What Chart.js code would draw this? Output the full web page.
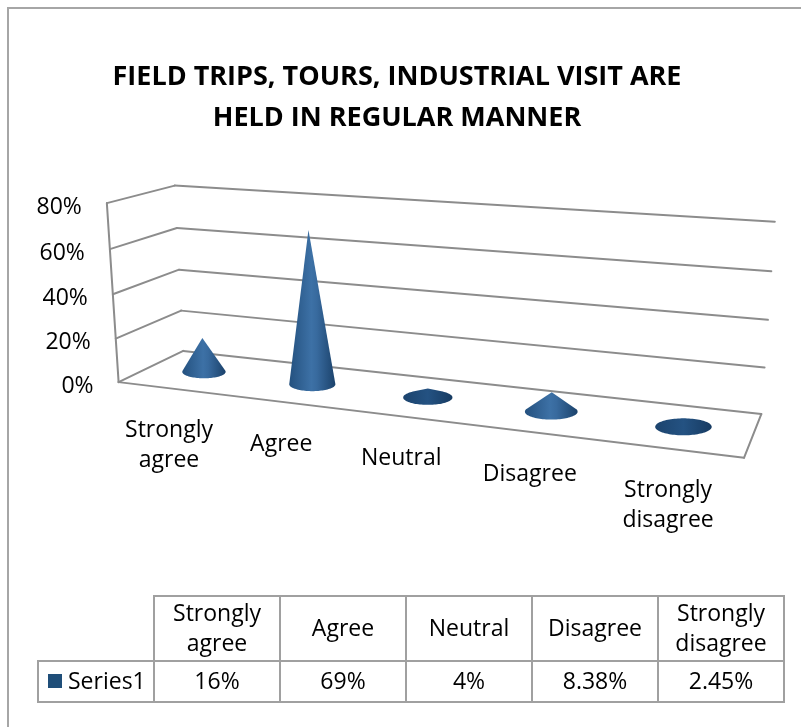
<!DOCTYPE html>
<html><head><meta charset="utf-8">
<script src="https://cdn.jsdelivr.net/npm/chart.js@4.4.0/dist/chart.umd.min.js"></script>
<style>html,body{margin:0;padding:0;background:#fff}#wrap{width:801px;height:727px;position:relative}</style>
</head><body><div id="wrap"><canvas id="c" width="801" height="727"></canvas></div>
<script>
// ---- data ----
const categories = [['Strongly','agree'], 'Agree', 'Neutral', 'Disagree', ['Strongly','disagree']];
const seriesName = 'Series1';
const values = [0.16, 0.69, 0.04, 0.0838, 0.0245];
const valueLabels = ['16%', '69%', '4%', '8.38%', '2.45%'];
const yTickValues = [0, 0.2, 0.4, 0.6, 0.8];
const yTickLabels = ['0%', '20%', '40%', '60%', '80%'];
const titleLines = ['FIELD TRIPS, TOURS, INDUSTRIAL VISIT ARE', 'HELD IN REGULAR MANNER'];

// ---- layout (3D frame corners of the plot box: u along categories, v along value, z depth) ----
const FRAME = [
  [0,0,0,118,382],[0,0.25,0,116,339],[0,0.5,0,113,294],[0,0.75,0,110,249],[0,1,0,107,203],
  [0,0,1,183,351],[0,0.25,1,182,311],[0,0.5,1,179,269],[0,0.75,1,177,228],[0,1,1,174,186],
  [1,0,1,761,414],[1,0.25,1,765,367],[1,0.5,1,768,320],[1,0.75,1,771,271],[1,1,1,775,222],
  [1,0,0,744,458]
];
const FONT = "'Open Sans', 'Noto Sans', 'DejaVu Sans', sans-serif";
const GRID = '#8c8c8c';
const SERIES_COLOR = '#1f4e79';

function solve(A, b) {
  const n = b.length;
  for (let i = 0; i < n; i++) {
    let p = i;
    for (let r = i + 1; r < n; r++) if (Math.abs(A[r][i]) > Math.abs(A[p][i])) p = r;
    [A[i], A[p]] = [A[p], A[i]]; [b[i], b[p]] = [b[p], b[i]];
    for (let r = i + 1; r < n; r++) {
      const f = A[r][i] / A[i][i];
      for (let c = i; c < n; c++) A[r][c] -= f * A[i][c];
      b[r] -= f * b[i];
    }
  }
  const x = new Array(n).fill(0);
  for (let i = n - 1; i >= 0; i--) {
    let s = b[i];
    for (let c = i + 1; c < n; c++) s -= A[i][c] * x[c];
    x[i] = s / A[i][i];
  }
  return x;
}
function fitCamera(pts) {
  const rows = [], rhs = [];
  pts.forEach(([u,v,z,x,y]) => {
    const xn = (x - 400) / 300, yn = (y - 300) / 300;
    rows.push([u,v,z,1,0,0,0,0,-xn*u,-xn*v,-xn*z]); rhs.push(xn);
    rows.push([0,0,0,0,u,v,z,1,-yn*u,-yn*v,-yn*z]); rhs.push(yn);
  });
  const N = [], c = [];
  for (let i = 0; i < 11; i++) {
    N.push(new Array(11).fill(0)); c.push(0);
    for (let r = 0; r < rows.length; r++) {
      c[i] += rows[r][i] * rhs[r];
      for (let j = 0; j < 11; j++) N[i][j] += rows[r][i] * rows[r][j];
    }
  }
  return solve(N, c);
}
const CAM = fitCamera(FRAME);
function P(u, v, z) {
  const p = CAM;
  const w = p[8]*u + p[9]*v + p[10]*z + 1;
  return {
    x: (p[0]*u + p[1]*v + p[2]*z + p[3]) / w * 300 + 400,
    y: (p[4]*u + p[5]*v + p[6]*z + p[7]) / w * 300 + 300
  };
}
function hull(pts) {
  pts = pts.slice().sort((a, b) => a.x - b.x || a.y - b.y);
  const cross = (o, a, b) => (a.x - o.x) * (b.y - o.y) - (a.y - o.y) * (b.x - o.x);
  const lo = [], up = [];
  for (const p of pts) { while (lo.length >= 2 && cross(lo[lo.length-2], lo[lo.length-1], p) <= 0) lo.pop(); lo.push(p); }
  for (let i = pts.length - 1; i >= 0; i--) { const p = pts[i]; while (up.length >= 2 && cross(up[up.length-2], up[up.length-1], p) <= 0) up.pop(); up.push(p); }
  lo.pop(); up.pop();
  return lo.concat(up);
}
function line(ctx, a, b) { ctx.beginPath(); ctx.moveTo(a.x, a.y); ctx.lineTo(b.x, b.y); ctx.stroke(); }

const cone3d = {
  id: 'cone3d',
  beforeDraw(chart) {
    const ctx = chart.ctx;
    ctx.save();
    ctx.strokeStyle = '#a6a6a6'; ctx.lineWidth = 2;
    ctx.strokeRect(8, 8, 900, 900);
    ctx.restore();
  },
  afterDatasetsDraw(chart) {
    const ctx = chart.ctx, xs = chart.scales.x, ys = chart.scales.y;
    const vOf = val => (ys.bottom - ys.getPixelForValue(val)) / (ys.bottom - ys.top);
    const uOf = i => (xs.getPixelForValue(i) - xs.left) / (xs.right - xs.left);
    ctx.save();
    ctx.strokeStyle = GRID; ctx.lineWidth = 2; ctx.lineCap = 'round'; ctx.lineJoin = 'round';
    // walls & gridlines
    yTickValues.forEach(t => {
      const v = vOf(t);
      line(ctx, P(0, v, 0), P(0, v, 1));
      line(ctx, P(0, v, 1), P(1, v, 1));
    });
    line(ctx, P(0, 0, 0), P(0, vOf(yTickValues[yTickValues.length-1]), 0));
    // floor
    line(ctx, P(0, 0, 0), P(1, 0, 0));
    line(ctx, P(1, 0, 0), P(1, 0, 1));
    // y tick labels
    ctx.fillStyle = '#000'; ctx.font = `23px ${FONT}`; ctx.textAlign = 'right'; ctx.textBaseline = 'middle';
    yTickValues.forEach((t, k) => {
      const p = P(0, vOf(t), 0);
      ctx.fillText(yTickLabels[k], p.x - 25, p.y + 4);
    });
    // category labels
    ctx.textAlign = 'center';
    categories.forEach((c, i) => {
      const p = P(uOf(i), 0, 0);
      const lines = Array.isArray(c) ? c : [c];
      lines.forEach((t, k) => ctx.fillText(t, p.x - 3, p.y + 42 + k * 30));
    });
    // cones
    const ru = 0.041, zc = 0.5;
    values.forEach((val, i) => {
      const u = uOf(i);
      const c = P(u, 0, zc), l = P(u - ru, 0, zc), r = P(u + ru, 0, zc);
      const rx = Math.hypot(r.x - l.x, r.y - l.y) / 2, ry = rx * 0.3;
      const apex = P(u, vOf(val), zc);
      const pts = [apex];
      for (let k = 0; k < 96; k++) {
        const a = k / 96 * Math.PI * 2;
        pts.push({ x: c.x + rx * Math.cos(a), y: c.y + ry * Math.sin(a) });
      }
      const h = hull(pts);
      const flat = (c.y - apex.y) < ry * 1.8;
      const g = ctx.createLinearGradient(c.x - rx, 0, c.x + rx, 0);
      if (flat) {
        g.addColorStop(0, '#1c446e');
        g.addColorStop(0.5, '#245282');
        g.addColorStop(1, '#173b62');
      } else {
        g.addColorStop(0, '#24517f');
        g.addColorStop(0.48, '#3d71a6');
        g.addColorStop(0.6, '#386a9e');
        g.addColorStop(1, '#1b426b');
      }
      ctx.fillStyle = g;
      ctx.beginPath();
      h.forEach((p, k) => k ? ctx.lineTo(p.x, p.y) : ctx.moveTo(p.x, p.y));
      ctx.closePath(); ctx.fill();
    });
    ctx.restore();
  },
  afterDraw(chart) {
    const ctx = chart.ctx;
    const legL = 38, colL = 154, colW = 126, top = 596, mid = 661, bot = 702;
    const n = categories.length, right = colL + n * colW;
    ctx.save();
    ctx.strokeStyle = '#a0a0a0'; ctx.lineWidth = 2;
    const L = (x1, y1, x2, y2) => { ctx.beginPath(); ctx.moveTo(x1, y1); ctx.lineTo(x2, y2); ctx.stroke(); };
    L(colL - 1, top, right + 1, top);
    L(legL - 1, mid, right + 1, mid);
    L(legL - 1, bot, right + 1, bot);
    L(legL, mid, legL, bot);
    for (let i = 0; i <= n; i++) L(colL + i * colW, top, colL + i * colW, bot);
    ctx.fillStyle = '#000'; ctx.font = `23px ${FONT}`; ctx.textAlign = 'center'; ctx.textBaseline = 'middle';
    categories.forEach((c, i) => {
      const lines = Array.isArray(c) ? c : [c];
      const cx = colL + (i + 0.5) * colW, cy = (top + mid) / 2 + 1;
      lines.forEach((t, k) => ctx.fillText(t, cx, cy + (k - (lines.length - 1) / 2) * 30));
      ctx.fillText(valueLabels[i], cx, (mid + bot) / 2 + 1);
    });
    ctx.fillStyle = SERIES_COLOR;
    ctx.fillRect(48, 674, 14, 14);
    ctx.fillStyle = '#000'; ctx.textAlign = 'left';
    ctx.fillText(seriesName, 68, (mid + bot) / 2 + 1);
    ctx.restore();
  }
};

Chart.defaults.font.family = FONT;
new Chart(document.getElementById('c'), {
  type: 'bar',
  data: {
    labels: categories,
    datasets: [{ label: seriesName, data: values, backgroundColor: 'rgba(0,0,0,0)', borderWidth: 0 }]
  },
  options: {
    responsive: false, animation: false,
    layout: { padding: { left: 0, right: 7, top: 0, bottom: 0 } },
    scales: {
      x: { display: false },
      y: { display: false, min: yTickValues[0], max: yTickValues[yTickValues.length - 1], ticks: { stepSize: 0.2 } }
    },
    plugins: {
      legend: { display: false },
      tooltip: { enabled: false },
      title: {
        display: true, text: titleLines, color: '#000',
        font: { family: FONT, size: 27, weight: 'bold', lineHeight: 1.51 },
        padding: { top: 57, bottom: 10 }
      }
    }
  },
  plugins: [cone3d]
});
</script>
</body></html>
